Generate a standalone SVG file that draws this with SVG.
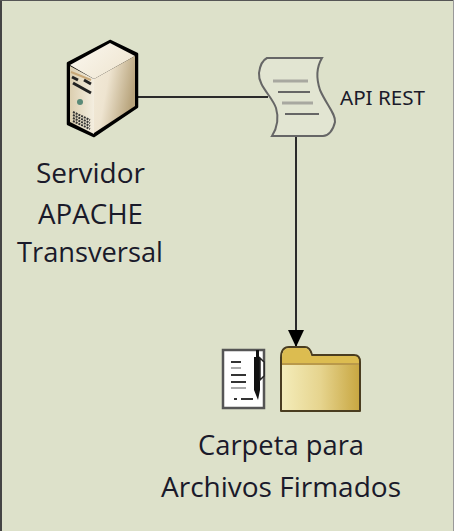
<svg xmlns="http://www.w3.org/2000/svg" width="454" height="531" viewBox="0 0 454 531">
<style>
.lbl{font-family:"Open Sans","Noto Sans","DejaVu Sans",sans-serif;fill:#1a1a2a;text-anchor:middle;font-size:27.5px}
.con{stroke:#2a2a2a;stroke-width:2;fill:none}
</style>
<defs>
<linearGradient id="srv" x1="0" x2="1" y1="0" y2="0.35"><stop offset="0" stop-color="#f2ead8"/><stop offset="0.4" stop-color="#eee4d0"/><stop offset="1" stop-color="#b8a47c"/></linearGradient>
<linearGradient id="front" x1="0" x2="1" y1="0" y2="0"><stop offset="0" stop-color="#dccfb0"/><stop offset="1" stop-color="#f4eee0"/></linearGradient>
<linearGradient id="top" x1="0" x2="1" y1="0" y2="0.6"><stop offset="0" stop-color="#fbf8f0"/><stop offset="1" stop-color="#efe6d2"/></linearGradient>
<linearGradient id="fld" x1="0" x2="1" y1="0" y2="0"><stop offset="0" stop-color="#f4edbb"/><stop offset="0.5" stop-color="#e6d48e"/><stop offset="1" stop-color="#c8a640"/></linearGradient>
<marker id="arrow" markerUnits="userSpaceOnUse" markerWidth="18" markerHeight="16" refX="17" refY="8" orient="auto"><path d="M0 0L17 8L0 16Z" fill="#000"/></marker>
</defs>
<rect x="0" y="0" width="454" height="531" fill="#dde1ca"/>
<path d="M1 0V531" stroke="#444" stroke-width="2"/>
<path d="M0 0.5H454" stroke="#555" stroke-width="1"/>
<path d="M453.5 0V531" stroke="#999" stroke-width="1"/>
<g id="connectors">
<path class="con" d="M138 97H268"/>
<path class="con" d="M296 135V347" marker-end="url(#arrow)"/>
</g>
<g id="server">
<path d="M68 63L110 41L137 54V107L94 136L68 124Z" fill="#000" stroke="#000" stroke-width="2.5" stroke-linejoin="round"/>
<path d="M70 65L110 43L135 56L94 79Z" fill="url(#top)"/>
<path d="M70 66L94 79V134L70 122Z" fill="url(#front)"/>
<path d="M94 79L135 56V106L94 133Z" fill="url(#srv)"/>
<path d="M71 72L91 80" stroke="#c8a878" stroke-width="2"/>
<path d="M72 77L78 80M84 80L91 84M73 83L91 93" stroke="#222" stroke-width="3"/>
<circle cx="80" cy="102" r="3" fill="#5a8a78"/>
<path d="M73 112L90 120M73 115L90 123M73 118L90 126M73 121L90 129" stroke="#333" stroke-width="2" stroke-dasharray="2 1"/>
</g>
<g id="api-rest">
<path d="M267 58H322C316 68 316 78 320 90C326 104 336 114 335 122C333 131 328 136 323 136H272C277 128 279 118 276 108C272 96 258 86 259 73C260 65 263 60 267 58Z" fill="#e2e5d2" stroke="#666" stroke-width="2"/>
<path d="M278 92H310M285 114H319" stroke="#666" stroke-width="2"/>
<path d="M273 81H308M282 103H313" stroke="#a8a8a0" stroke-width="3"/>
<text x="340" y="104.500" font-family="'Noto Sans','Open Sans',sans-serif" font-size="19" fill="#1a1a2a" textLength="85" lengthAdjust="spacingAndGlyphs">API REST</text>
</g>
<g id="servidor-apache">
<text class="lbl" x="90.500" y="183" textLength="109" lengthAdjust="spacingAndGlyphs">Servidor</text>
<text class="lbl" x="90.500" y="224" textLength="105" lengthAdjust="spacingAndGlyphs">APACHE</text>
<text class="lbl" x="90" y="262" textLength="146" lengthAdjust="spacingAndGlyphs">Transversal</text>
</g>
<g id="carpeta">
<path d="M223 350H264V408H223Z" fill="#fff" stroke="#555" stroke-width="2.500"/>
<path d="M231 362H241M231 375H246M231 382H246M241 399H253M234 399H237" stroke="#333" stroke-width="2"/>
<path d="M231 368H241M231 388H246" stroke="#aaa" stroke-width="2"/>
<path d="M256 350H259V357H260V390L258 400L254 390V357H256Z" fill="#111"/>
<path d="M260 358L264 362V376L260 380Z" fill="#fff" stroke="#222" stroke-width="1.500"/>
<path d="M281 411V358Q281 347 289 347H305Q310 347 312 355H354Q360 355 360 362V411Z" fill="url(#fld)" stroke="#4a3d20" stroke-width="2" stroke-linejoin="round"/>
<path d="M282 363V358Q282 348 289 348H305Q309 348 311 356H354Q359 356 359 362V363Z" fill="#dcbc50"/>
<path d="M282 364H359" stroke="#b9994a" stroke-width="2"/>
<text class="lbl" x="281" y="455" textLength="166" lengthAdjust="spacingAndGlyphs">Carpeta para</text>
<text class="lbl" x="281" y="497" textLength="240" lengthAdjust="spacingAndGlyphs">Archivos Firmados</text>
</g>
</svg>
